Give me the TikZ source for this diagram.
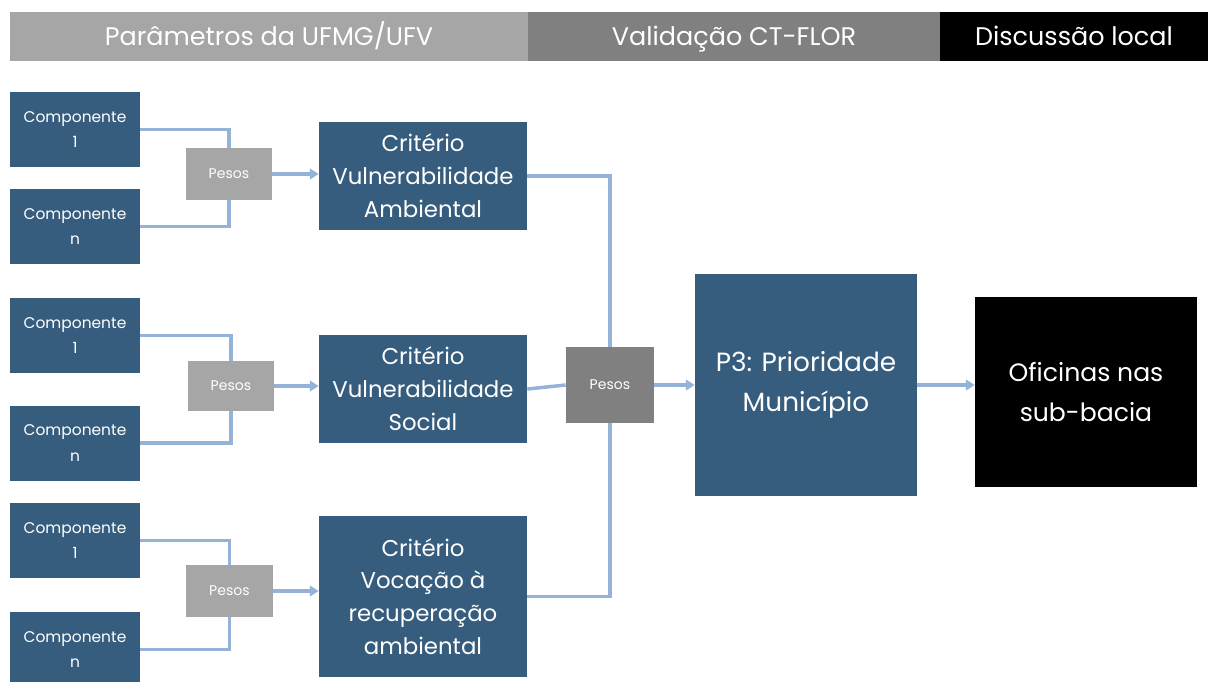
\documentclass[tikz,border=0pt]{standalone}
\usepackage{fontspec}
\setmainfont{Poppins}
\usetikzlibrary{arrows.meta}
\definecolor{boxblue}{RGB}{54,93,125}
\definecolor{linkblue}{RGB}{149,179,215}
\definecolor{lightgray}{RGB}{166,166,166}
\definecolor{midgray}{RGB}{128,128,128}

\begin{document}
\begin{tikzpicture}[x=0.02cm,y=-0.02cm,
        box/.style={rectangle,fill=boxblue,text=white,align=center,inner sep=0pt},
        comp/.style={box,minimum width=2.6cm,minimum height=1.5cm,font=\fontsize{8.8}{14.7}\selectfont},
        crit/.style={box,minimum width=4.16cm,font=\fontsize{13}{18.7}\selectfont},
        pesos/.style={rectangle,fill=lightgray,text=white,inner sep=0pt,font=\fontsize{8}{10}\selectfont},
        band/.style={rectangle,text=white,minimum height=0.98cm,inner sep=0pt,text height=2.2ex,text depth=0.4ex,font=\fontsize{14.5}{16}\selectfont},
        link/.style={draw=linkblue,line width=2pt},
        arr/.style={link,-{Triangle[length=5pt,width=6pt]}}]
    \useasboundingbox (0,0) rectangle (1208,681);
    % header
    \node[band,fill=lightgray,minimum width=10.36cm] (h1) at (269,36.5) {Parâmetros da UFMG/UFV};
    \node[band,fill=midgray,minimum width=8.24cm] (h2) at (734,36.5) {Validação CT-FLOR};
    \node[band,fill=black,minimum width=5.36cm] (h3) at (1074,36.5) {Discussão local};
    % componentes
    \node[comp] (c1a) at (75,129.5) {Componente\\1};
    \node[comp] (cna) at (75,226.5) {Componente\\n};
    \node[comp] (c1b) at (75,335.5) {Componente\\1};
    \node[comp] (cnb) at (75,443) {Componente\\n};
    \node[comp] (c1c) at (75,540.5) {Componente\\1};
    \node[comp] (cnc) at (75,649.5) {Componente\\n};
    % pesos
    \node[pesos,minimum width=1.72cm,minimum height=1.04cm] (pa) at (229,174) {Pesos};
    \node[pesos,minimum width=1.72cm,minimum height=1.0cm] (pb) at (231,386) {Pesos};
    \node[pesos,minimum width=1.74cm,minimum height=1.04cm] (pc) at (229.5,591) {Pesos};
    % criterios
    \node[crit,minimum height=2.16cm] (amb) at (423,176) {Critério\\Vulnerabilidade\\Ambiental};
    \node[crit,minimum height=2.16cm] (soc) at (423,389) {Critério\\Vulnerabilidade\\Social};
    \node[crit,minimum height=3.22cm] (voc) at (423,596.5) {Critério\\Vocação à\\recuperação\\ambiental};
    \node[pesos,fill=midgray,minimum width=1.76cm,minimum height=1.52cm] (pm) at (610,385) {Pesos};
    \node[box,minimum width=4.44cm,minimum height=4.44cm,font=\fontsize{15}{22.7}\selectfont] (p3) at (806,385) {P3: Prioridade\\Município};
    \node[box,fill=black,minimum width=4.44cm,minimum height=3.8cm,font=\fontsize{14.3}{22.7}\selectfont] (of) at (1086,392) {Oficinas nas\\sub-bacia};
    % ligacoes
    \draw[link] (c1a.east) -| (pa.north);
    \draw[link] (cna.east) -| (pa.south);
    \draw[link] (c1b.east) -| (pb.north);
    \draw[link] (cnb.east) -| (pb.south);
    \draw[link] (c1c.east) -| (pc.north);
    \draw[link] (cnc.east) -| (pc.south);
    \draw[arr] (pa) -- (pa -| amb.west);
    \draw[arr] (pb) -- (pb -| soc.west);
    \draw[arr] (pc) -- (pc -| voc.west);
    \draw[link] (amb.east) -| (pm.north);
    \draw[link] (soc.east) -- (pm.west);
    \draw[link] (voc.east) -| (pm.south);
    \draw[arr] (pm) -- (pm -| p3.west);
    \draw[arr] (p3) -- (p3 -| of.west);
\end{tikzpicture}
\end{document}
